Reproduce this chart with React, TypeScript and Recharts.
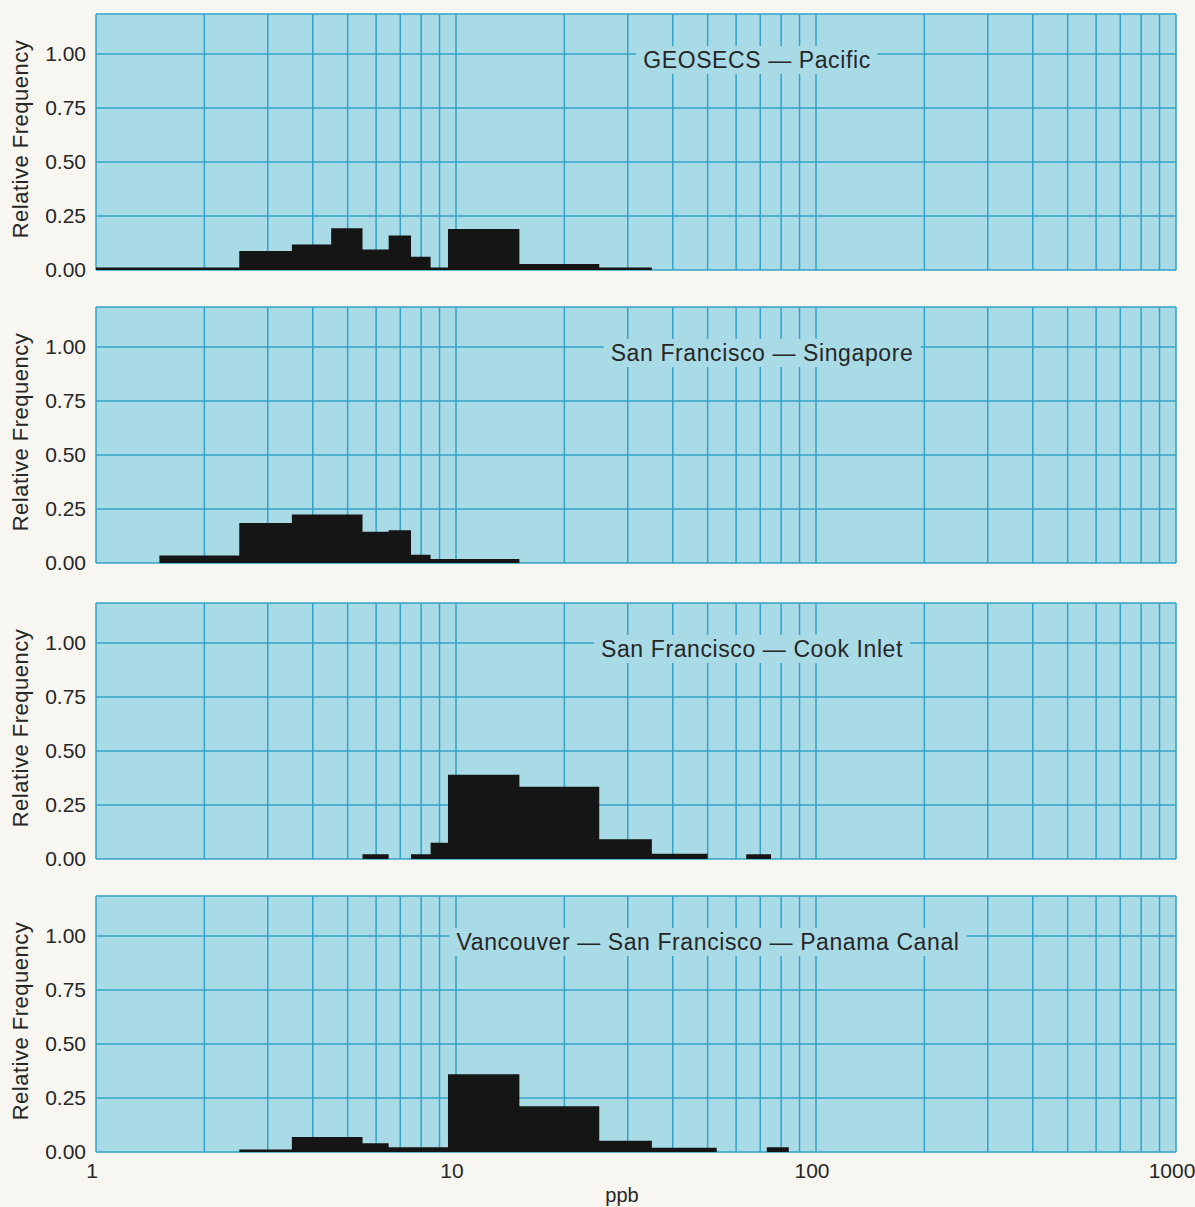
import React from 'react';
import { ComposedChart, Area, XAxis, YAxis, CartesianGrid } from 'recharts';

// ---- axis ticks ----
const gridTicks = [1, 2, 3, 4, 5, 6, 7, 8, 9, 10, 20, 30, 40, 50, 60, 70, 80, 90, 100, 200, 300, 400, 500, 600, 700, 800, 900, 1000];
const labelTicks = [1, 10, 100, 1000];
const yTicks = [0, 0.25, 0.5, 0.75, 1];
const yTop = 1.185;

// ---- panel titles ----
const panelTitles = [
  'GEOSECS — Pacific',
  'San Francisco — Singapore',
  'San Francisco — Cook Inlet',
  'Vancouver — San Francisco — Panama Canal',
];

// ---- histogram bins (left edges, last value = right edge of last bin) and relative frequencies ----
const geosecsEdges = [1, 2.5, 3.5, 4.5, 5.5, 6.5, 7.5, 8.5, 9.5, 15, 25, 35];
const geosecsFreq = [0.012, 0.088, 0.118, 0.193, 0.095, 0.16, 0.061, 0.012, 0.19, 0.028, 0.012];

const singaporeEdges = [1.5, 2.5, 3.5, 5.5, 6.5, 7.5, 8.5, 15];
const singaporeFreq = [0.035, 0.185, 0.225, 0.145, 0.152, 0.038, 0.018];

const cookEdges = [5.5, 6.5, 7.5, 8.5, 9.5, 15, 25, 35, 50, 64, 75];
const cookFreq = [0.022, 0, 0.022, 0.075, 0.39, 0.335, 0.092, 0.024, 0, 0.022];

const vancouverEdges = [2.5, 3.5, 5.5, 6.5, 9.5, 15, 25, 35, 53, 73, 84];
const vancouverFreq = [0.012, 0.07, 0.04, 0.022, 0.36, 0.212, 0.052, 0.02, 0, 0.022];

// ---- styles / layout ----
const PAGE_BG = '#f7f6f0';
const PANEL_BG = '#a9dbe6';
const GRID = '#33a2c8';
const BAR = '#151515';
const TEXT = '#262626';
const FONT = '"Liberation Sans", Arial, Helvetica, sans-serif';

const W = 1195;
const PLOT_LEFT = 96;
const PLOT_RIGHT = 1176;
const PLOT_H = 256;
const TOP_PAD = 5;
const panelTops = [14, 307, 603, 896];
const titleCenters = [757, 762, 752, 708];

function toSteps(edges: number[], freq: number[]) {
  return edges.map((x, i) => ({ x, y: i < freq.length ? freq[i] : 0 }));
}

const YLabel = (props: any) => {
  const vb = props.viewBox || { x: 0, y: 0, width: PLOT_LEFT, height: PLOT_H };
  const cx = vb.x + 20;
  const cy = vb.y + vb.height / 2 - 3;
  return (
    <text
      x={cx}
      y={cy}
      transform={`rotate(-90, ${cx}, ${cy})`}
      textAnchor="middle"
      dominantBaseline="central"
      fontSize={22}
      letterSpacing={0.5}
      fontFamily={FONT}
      fill={TEXT}
    >
      Relative Frequency
    </text>
  );
};

const PpbLabel = (props: any) => {
  const vb = props.viewBox || { x: PLOT_LEFT, y: 0, width: PLOT_RIGHT - PLOT_LEFT, height: 50 };
  return (
    <text
      x={vb.x + vb.width / 2 - 14}
      y={vb.y + 43}
      textAnchor="middle"
      dominantBaseline="central"
      fontSize={20}
      fontFamily={FONT}
      fill={TEXT}
    >
      ppb
    </text>
  );
};

function Panel({ index, edges, freq, last }: { index: number; edges: number[]; freq: number[]; last: boolean }) {
  const data = toSteps(edges, freq);
  const top = panelTops[index];
  const xAxisH = last ? 58 : 0;
  const bottomMargin = last ? 0 : 16;
  const height = TOP_PAD + PLOT_H + xAxisH + bottomMargin;
  const lineY = top + (PLOT_H * (yTop - 1)) / yTop;
  return (
    <>
      <div style={{ position: 'absolute', left: 0, top: top - TOP_PAD, width: W, height }}>
        <ComposedChart
          width={W}
          height={height}
          data={data}
          margin={{ top: TOP_PAD, right: W - PLOT_RIGHT, bottom: bottomMargin, left: 0 }}
        >
          <CartesianGrid fill={PANEL_BG} fillOpacity={1} stroke={GRID} strokeWidth={1.5} strokeOpacity={1} />
          <XAxis
            dataKey="x"
            type="number"
            scale="log"
            domain={[1, 1000]}
            allowDataOverflow
            ticks={gridTicks}
            interval={0}
            hide={!last}
            height={xAxisH}
            tickLine={false}
            axisLine={false}
            tickSize={6}
            tickMargin={5}
            tickFormatter={(v: number) => (labelTicks.includes(v) ? String(v) : '')}
            tick={{ fontSize: 21, fill: TEXT, fontFamily: FONT, dx: -4 }}
            label={last ? <PpbLabel /> : undefined}
          />
          <YAxis
            type="number"
            domain={[0, yTop]}
            allowDataOverflow
            ticks={[...yTicks, yTop]}
            interval={0}
            width={PLOT_LEFT}
            tickLine={false}
            axisLine={false}
            tickSize={6}
            tickMargin={4}
            tickFormatter={(v: number) => (v === yTop ? '' : v.toFixed(2))}
            tick={{ fontSize: 21, fill: TEXT, fontFamily: FONT }}
            label={<YLabel />}
          />
          <Area
            dataKey="y"
            type="stepAfter"
            fill={BAR}
            fillOpacity={1}
            stroke="none"
            baseValue={0}
            dot={false}
            activeDot={false}
            isAnimationActive={false}
          />
        </ComposedChart>
      </div>
      <div
        style={{
          position: 'absolute',
          left: titleCenters[index],
          top: lineY - 8,
          height: 28,
          lineHeight: '28px',
          transform: 'translateX(-50%)',
          padding: '0 7px',
          background: PANEL_BG,
          fontFamily: FONT,
          fontSize: 23,
          letterSpacing: 0.6,
          color: TEXT,
          whiteSpace: 'nowrap',
        }}
      >
        {panelTitles[index]}
      </div>
    </>
  );
}

export default function App() {
  return (
    <div
      style={{
        position: 'absolute',
        left: 0,
        top: 0,
        width: W,
        height: 1207,
        background: PAGE_BG,
        overflow: 'hidden',
      }}
    >
      <Panel index={0} edges={geosecsEdges} freq={geosecsFreq} last={false} />
      <Panel index={1} edges={singaporeEdges} freq={singaporeFreq} last={false} />
      <Panel index={2} edges={cookEdges} freq={cookFreq} last={false} />
      <Panel index={3} edges={vancouverEdges} freq={vancouverFreq} last={true} />
    </div>
  );
}
